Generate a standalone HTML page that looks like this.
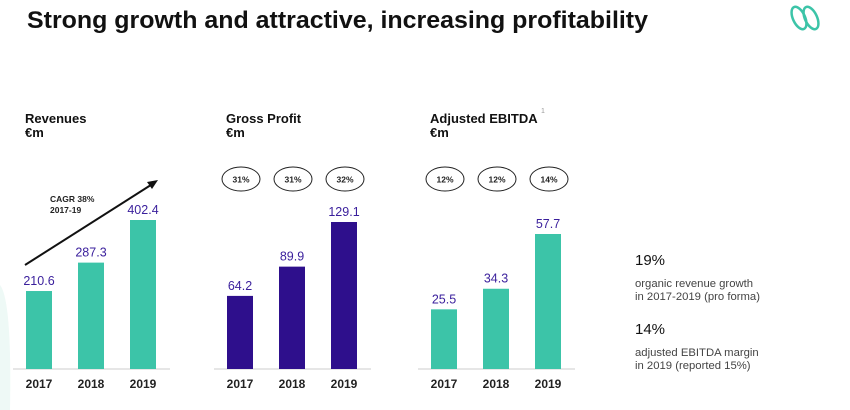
<!DOCTYPE html>
<html><head><meta charset="utf-8"><style>
body{margin:0;background:#fff;width:850px;height:410px;overflow:hidden}
svg{display:block;font-family:"Liberation Sans",sans-serif}
</style></head><body>
<svg id="c" width="850" height="410" viewBox="0 0 850 410">
<path d="M0,285 Q12,300 10,410 L0,410 Z" fill="#eef9f6"/>
<text x="27" y="28" font-size="24" font-weight="bold" fill="#111" textLength="621" lengthAdjust="spacingAndGlyphs">Strong growth and attractive, increasing profitability</text>
<g fill="none" stroke="#3cc4a8" stroke-width="2.5">
<ellipse cx="799" cy="18" rx="6" ry="12" transform="rotate(-25 799 18)"/>
<ellipse cx="811" cy="18" rx="6" ry="12" transform="rotate(-25 811 18)"/>
</g>
<g id="charts"></g>
<line x1="25" y1="265" x2="154" y2="183" stroke="#111" stroke-width="2"/>
<polygon points="158,180 147,182 152,189" fill="#111"/>
<text x="50" y="202" font-size="8.5" font-weight="bold" fill="#222">CAGR 38%</text>
<text x="50" y="213" font-size="8.5" font-weight="bold" fill="#222">2017-19</text>
<text x="635" y="265" font-size="15" fill="#111">19%</text>
<text x="635" y="287" font-size="11.3" fill="#444">organic revenue growth</text>
<text x="635" y="300" font-size="11.3" fill="#444">in 2017-2019 (pro forma)</text>
<text x="635" y="334" font-size="15" fill="#111">14%</text>
<text x="635" y="356" font-size="11.3" fill="#444">adjusted EBITDA margin</text>
<text x="635" y="369" font-size="11.3" fill="#444">in 2019 (reported 15%)</text>
</svg>
<script>
const years = ['2017','2018','2019'];
const revenues = [210.6, 287.3, 402.4];
const grossProfit = [64.2, 89.9, 129.1];
const ebitda = [25.5, 34.3, 57.7];
const gpMargins = ['31%','31%','32%'];
const ebitdaMargins = ['12%','12%','14%'];
const NS='http://www.w3.org/2000/svg';
const g=document.getElementById('charts');
function mk(t,a,txt){const e=document.createElementNS(NS,t);for(const k in a)e.setAttribute(k,a[k]);if(txt!=null)e.textContent=txt;g.appendChild(e);return e;}
const base=369;
function chart(name,title,x0,vals,color,scale,margins){
  const t1=mk('text',{x:x0+12,y:123,'font-size':13,'font-weight':'bold',fill:'#111'},title);
  
  
  const t2=mk('text',{x:x0+12,y:137,'font-size':13,'font-weight':'bold',fill:'#111'},'€m');
  
  
  const ax=mk('line',{x1:x0,x2:x0+157,y1:base,y2:base,stroke:'#ccc','stroke-width':1});
  
  
  vals.forEach((v,i)=>{
    const cx=x0+26+i*52;
    const h=v*scale;
    const r=mk('rect',{x:cx-13,y:base-h,width:26,height:h,fill:color});
    
    
    const l=mk('text',{x:cx,y:base-h-6,'font-size':12.5,fill:'#3a1f9c','text-anchor':'middle'},v.toFixed(1));
    
    
    const y=mk('text',{x:cx,y:388,'font-size':12,'font-weight':'bold',fill:'#222','text-anchor':'middle'},years[i]);
    
    
    if(margins){
      const ox=x0+27+i*52;
      const o=mk('ellipse',{cx:ox,cy:179,rx:19,ry:12,fill:'none',stroke:'#222','stroke-width':1});
      
      
      const m=mk('text',{x:ox,y:182.5,'font-size':8.5,'font-weight':'bold',fill:'#222','text-anchor':'middle'},margins[i]);
      
      
    }
  });
}
chart('revenues','Revenues',13,revenues,'#3cc4a8',149/402.4,null);
chart('gross-profit','Gross Profit',214,grossProfit,'#2e0f8c',147/129.1,gpMargins);
chart('ebitda','Adjusted EBITDA',418,ebitda,'#3cc4a8',135/57.7,ebitdaMargins);
const s=mk('text',{x:541,y:113,'font-size':7,fill:'#999'},'1');


</script>
</body></html>
